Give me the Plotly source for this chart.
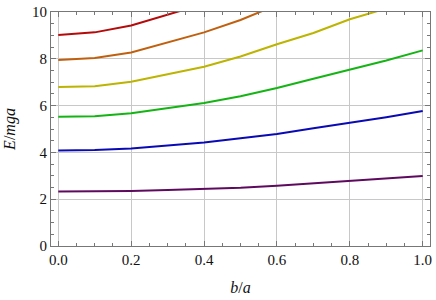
import plotly.graph_objects as go

b_over_a = [0.0, 0.1, 0.2, 0.3, 0.4, 0.5, 0.6, 0.7, 0.8, 0.9, 1.0]

e1 = [2.33, 2.33, 2.35, 2.39, 2.43, 2.49, 2.58, 2.68, 2.78, 2.88, 2.99]
e2 = [4.08, 4.10, 4.17, 4.29, 4.42, 4.60, 4.79, 5.03, 5.25, 5.50, 5.77]
e3 = [5.52, 5.54, 5.67, 5.89, 6.11, 6.40, 6.75, 7.15, 7.53, 7.93, 8.36]
e4 = [6.79, 6.83, 7.02, 7.33, 7.66, 8.10, 8.62, 9.10, 9.69, 10.15]
e5 = [7.95, 8.03, 8.27, 8.69, 9.13, 9.66, 10.30]
e6 = [9.02, 9.13, 9.42, 9.87, 10.35]

series = [e1, e2, e3, e4, e5, e6]
colors = ["#5e0a5e", "#0a0ab4", "#14b414", "#bcb400", "#c0600f", "#b40a0a"]

x_ticks = [0.0, 0.2, 0.4, 0.6, 0.8, 1.0]
x_tick_labels = ["0.0", "0.2", "0.4", "0.6", "0.8", "1.0"]
y_ticks = [0, 2, 4, 6, 8, 10]
y_tick_labels = ["0", "2", "4", "6", "8", "10"]

fig = go.Figure()
for vals, col in zip(series, colors):
    fig.add_trace(go.Scatter(
        x=b_over_a[:len(vals)], y=vals, mode="lines",
        line=dict(color=col, width=2), showlegend=False,
        hoverinfo="skip"))

SERIF = "Liberation Serif, DejaVu Serif, serif"
tick_font = dict(family=SERIF, size=15, color="#111")
title_font = dict(family=SERIF, size=16, color="#111")

axis_common = dict(
    showline=True, linecolor="#777", linewidth=1, mirror="allticks",
    ticks="inside", ticklen=5, tickcolor="#777", tickwidth=1,
    showgrid=True, gridcolor="#c8c8c8", gridwidth=1,
    zeroline=False, tickfont=tick_font, ticklabeloverflow="allow",
)

fig.update_layout(
    width=436, height=300,
    margin=dict(l=51, r=4, t=10, b=54),
    paper_bgcolor="white", plot_bgcolor="white",
    font=tick_font,
    xaxis=dict(range=[-0.02, 1.02], tickmode="array", tickvals=x_ticks,
               ticktext=x_tick_labels,
               minor=dict(dtick=0.05, tick0=0, ticks="inside", ticklen=3,
                          tickcolor="#777", showgrid=False),
               title=dict(text="<i>b</i>/<i>a</i>", font=title_font, standoff=14),
               **axis_common),
    yaxis=dict(range=[0, 10], tickmode="array", tickvals=y_ticks,
               ticktext=y_tick_labels,
               minor=dict(dtick=0.5, tick0=0, ticks="inside", ticklen=3,
                          tickcolor="#777", showgrid=False),
               title=dict(text="<i>E</i>/<i>mga</i>", font=title_font, standoff=12),
               **axis_common),
)

fig.write_html("out.html", config={"displayModeBar": False},
               post_script="document.body.style.margin='0px';")
